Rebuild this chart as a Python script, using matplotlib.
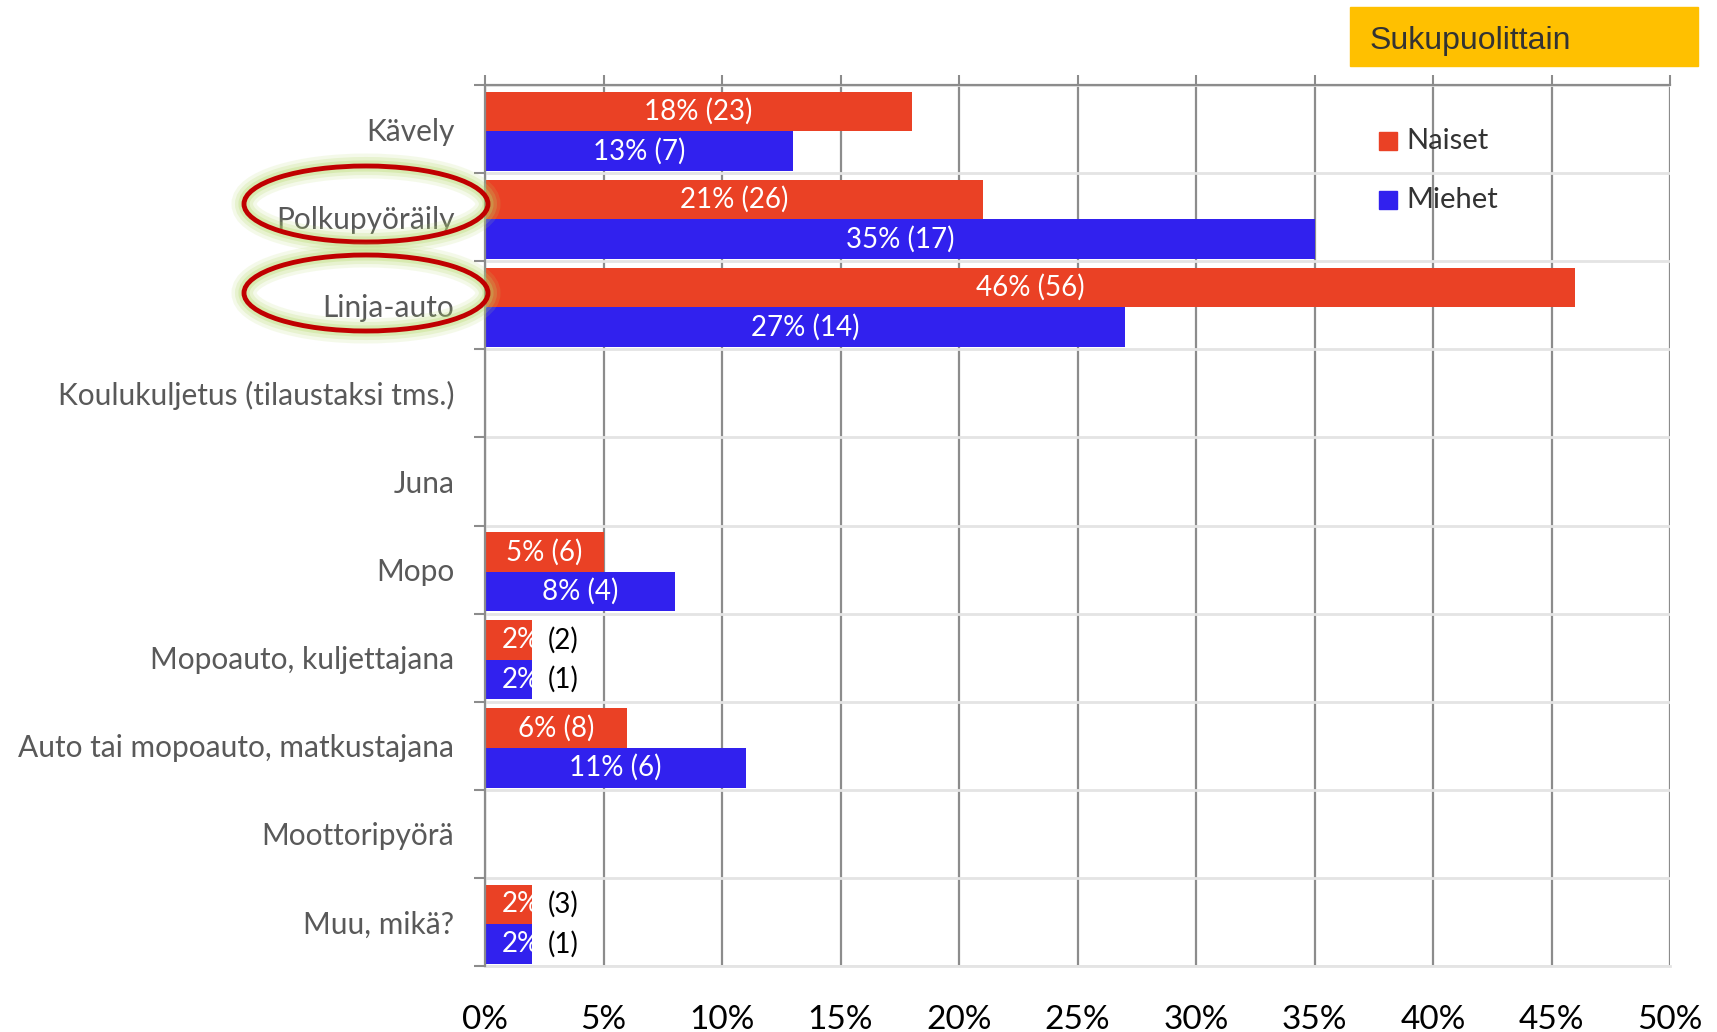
import matplotlib.pyplot as plt
from matplotlib.patches import Ellipse, Rectangle
import numpy as np

plt.rcParams['font.family'] = ['Lato', 'DejaVu Sans']

# Data
categories = ['Kävely', 'Polkupyöräily', 'Linja-auto', 'Koulukuljetus (tilaustaksi tms.)',
              'Juna', 'Mopo', 'Mopoauto, kuljettajana', 'Auto tai mopoauto, matkustajana',
              'Moottoripyörä', 'Muu, mikä?']
naiset_pct = [18, 21, 46, 0, 0, 5, 2, 6, 0, 2]
naiset_n = [23, 26, 56, 0, 0, 6, 2, 8, 0, 3]
miehet_pct = [13, 35, 27, 0, 0, 8, 2, 11, 0, 2]
miehet_n = [7, 17, 14, 0, 0, 4, 1, 6, 0, 1]
xticks = [0, 5, 10, 15, 20, 25, 30, 35, 40, 45, 50]

RED = '#EA4125'
BLUE = '#3121EE'
W, H = 1717, 1032

fig = plt.figure(figsize=(W / 100, H / 100), dpi=100)
ax = fig.add_axes([485 / W, 1 - 966 / H, (1670 - 485) / W, (966 - 85) / H])

y = np.arange(len(categories))
bh = 0.45
off = 0.025
red_bars = ax.barh(y - bh / 2 + off, naiset_pct, height=bh, color=RED, zorder=3)
blue_bars = ax.barh(y + bh / 2 + off, miehet_pct, height=bh, color=BLUE, zorder=3)


def label_bars(bars, pcts, counts):
    for bar, p, n in zip(bars, pcts, counts):
        if p == 0:
            continue
        yc = bar.get_y() + bar.get_height() / 2
        if p >= 4:
            ax.text(p / 2, yc, f'{p}% ({n})', ha='center', va='center', color='white',
                    fontsize=20, zorder=5)
        else:
            # label too wide for the bar: percent clipped inside, count outside
            t = ax.text(p * 0.35, yc, f'{p}%', ha='left', va='center', color='white',
                        fontsize=20, zorder=6, clip_on=True)
            t.set_clip_path(bar)
            ax.text(p + 0.63, yc, f'({n})', ha='left', va='center', color='black',
                    fontsize=20, zorder=5)


label_bars(red_bars, naiset_pct, naiset_n)
label_bars(blue_bars, miehet_pct, miehet_n)

ax.set_xlim(0, 50)
ax.set_ylim(len(categories) - 0.5, -0.5)
ax.set_xticks(xticks)
ax.set_xticklabels([f'{t}%' for t in xticks], fontsize=24, color='black')
ax.tick_params(axis='x', top=True, bottom=False, labeltop=False, labelbottom=True,
               length=7, width=1.5, color='#8c8c8c', pad=21)
ax.set_yticks(y)
ax.set_yticklabels(categories, fontsize=21.5, color='#595959')
ax.set_yticks(np.arange(len(categories) + 1) - 0.5, minor=True)
ax.tick_params(axis='y', which='major', length=0, pad=22)
ax.tick_params(axis='y', which='minor', length=8, width=1.5, color='#8c8c8c')

ax.grid(axis='x', color='#8c8c8c', linewidth=1.6, zorder=1)
ax.grid(axis='y', which='minor', color='#e4e4e4', linewidth=2, zorder=1)
ax.grid(axis='y', which='major', visible=False)

for s in ['top', 'left']:
    ax.spines[s].set_color('#8c8c8c')
    ax.spines[s].set_linewidth(1.6)
ax.spines['right'].set_visible(False)
ax.spines['bottom'].set_color('#e4e4e4')
ax.spines['bottom'].set_linewidth(2)
ax.spines['left'].set_zorder(4)

# Legend drawn by hand
for label, color, yy in [('Naiset', RED, 141), ('Miehet', BLUE, 200)]:
    fig.patches.append(Rectangle((1379 / W, 1 - (yy + 9) / H), 18 / W, 18 / H,
                                 color=color, transform=fig.transFigure))
    fig.text(1406 / W, 1 - yy / H, label, fontsize=21, color='#333333', va='center')

# Yellow header box
fig.patches.append(Rectangle((1350 / W, 1 - 66 / H), 348 / W, 59 / H,
                             color='#FFC000', transform=fig.transFigure))
fig.text(1370 / W, 1 - 41 / H, 'Sukupuolittain', fontsize=23, color='#333333',
         va='center', family=['Liberation Sans', 'DejaVu Sans'])

# Highlight ellipses around two labels
for cy in [204, 293]:
    for lw, a in [(18, 0.14), (13, 0.2), (8, 0.3)]:
        fig.patches.append(Ellipse((366 / W, 1 - cy / H), 244 / W, 76 / H, fill=False,
                                   edgecolor='#b5d96a', linewidth=lw, alpha=a,
                                   transform=fig.transFigure))
    fig.patches.append(Ellipse((366 / W, 1 - cy / H), 244 / W, 76 / H, fill=False,
                               edgecolor='#C00000', linewidth=3.5,
                               transform=fig.transFigure))

fig.savefig('out.png', dpi=100)
